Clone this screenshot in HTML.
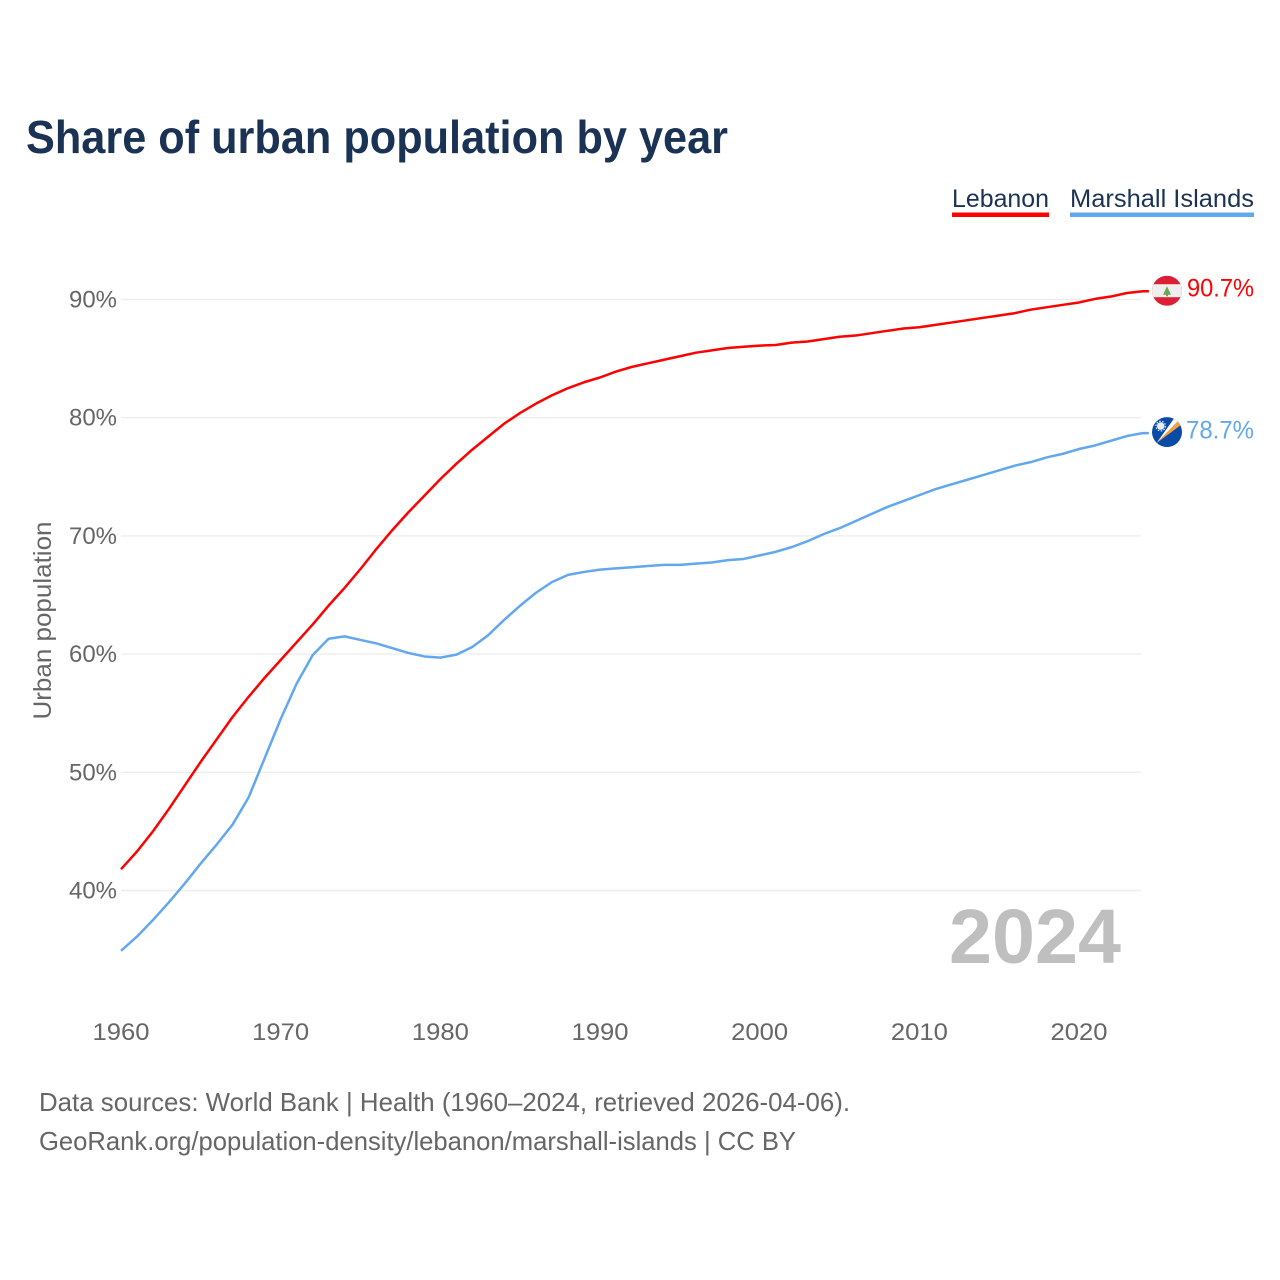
<!DOCTYPE html>
<html lang="en">
<head>
<meta charset="utf-8">
<title>Share of urban population by year</title>
<style>
  html, body { margin: 0; padding: 0; background: #fff; }
  svg { display: block; font-family: "Liberation Sans", "DejaVu Sans", sans-serif; }
</style>
</head>
<body>
<svg id="chart" xmlns="http://www.w3.org/2000/svg" width="1280" height="1280" viewBox="0 0 1280 1280">
  <defs>
    <clipPath id="flag-clip"><circle cx="0" cy="0" r="15"></circle></clipPath>
  </defs>
  <rect x="0" y="0" width="1280" height="1280" fill="#ffffff"></rect>
  <text x="26" y="153" font-size="46" font-weight="700" fill="#1a3254" textLength="702" lengthAdjust="spacingAndGlyphs">Share of urban population by year</text>

  <g>
    <g>
      <text x="952" y="207" font-size="25" fill="#1a3254" textLength="97" lengthAdjust="spacingAndGlyphs">Lebanon</text>
      <rect x="952" y="212.5" width="97" height="4.5" fill="#ff0000"></rect>
    </g>
    <g>
      <text x="1070" y="207" font-size="25" fill="#1a3254" textLength="184" lengthAdjust="spacingAndGlyphs">Marshall Islands</text>
      <rect x="1070" y="212.5" width="184" height="4.5" fill="#62a8ee"></rect>
    </g>
  </g>

  <g id="grid"></g>
  <g id="y-axis"></g>
  <g id="x-axis"></g>
  <text transform="translate(51,620.5) rotate(-90)" text-anchor="middle" font-size="25" fill="#666666" textLength="198" lengthAdjust="spacingAndGlyphs">Urban population</text>

  <text x="1121" y="963" text-anchor="end" font-size="77" font-weight="700" fill="#bfbfbf" textLength="172" lengthAdjust="spacingAndGlyphs">2024</text>

  <g id="series"></g>

  <g id="flag-lebanon">
    <g clip-path="url(#flag-clip)">
      <rect x="-15" y="-15" width="30" height="30" fill="#dc1f35"></rect>
      <rect x="-15" y="-6.5" width="30" height="13" fill="#eeeeee"></rect>
      <polygon points="0,-4.5 4,4 1,4 1,5.5 -1,5.5 -1,4 -4,4" fill="#6aa84f"></polygon>
    </g>
  </g>
  <g id="flag-marshall">
    <g clip-path="url(#flag-clip)">
      <rect x="-15" y="-15" width="30" height="30" fill="#0a4ba8"></rect>
      <polygon points="-10.5,11 8,-15 13,-13" fill="#ffffff"></polygon>
      <polygon points="-10.5,11 13,-13 15,-8" fill="#f6a13c"></polygon>
      <circle cx="-6.3" cy="-6" r="3.8" fill="#e8eef6"></circle>
      <circle cx="-6.3" cy="-6" r="4.8" fill="none" stroke="#e8eef6" stroke-width="1.2" stroke-dasharray="1.5 1.5"></circle>
    </g>
  </g>

  <g id="value-labels"></g>

  <g>
    <text x="39" y="1111" font-size="26" fill="#666666" textLength="811" lengthAdjust="spacingAndGlyphs">Data sources: World Bank | Health (1960–2024, retrieved 2026-04-06).</text>
    <text x="39" y="1150" font-size="26" fill="#666666" textLength="757" lengthAdjust="spacingAndGlyphs">GeoRank.org/population-density/lebanon/marshall-islands | CC BY</text>
  </g>
</svg>

<script>
const startYear = 1960;
const lebanonValues = [
  41.8, 43.3, 45.0, 46.9, 48.9, 50.9, 52.8, 54.7, 56.4, 58.0,
  59.5, 61.0, 62.5, 64.1, 65.6, 67.2, 68.9, 70.5, 72.0, 73.4,
  74.8, 76.1, 77.3, 78.4, 79.5, 80.4, 81.2, 81.9, 82.5, 83.0,
  83.4, 83.9, 84.3, 84.6, 84.9, 85.2, 85.5, 85.7, 85.9, 86.0,
  86.1, 86.15, 86.35, 86.45, 86.65, 86.85, 86.95, 87.15, 87.35, 87.55,
  87.65, 87.85, 88.05, 88.25, 88.45, 88.65, 88.85, 89.15, 89.35, 89.55,
  89.75, 90.05, 90.25, 90.55, 90.7
];
const marshallValues = [
  34.9, 36.1, 37.5, 39.0, 40.6, 42.3, 43.9, 45.6, 47.9, 51.2,
  54.5, 57.5, 59.9, 61.3, 61.5, 61.2, 60.9, 60.5, 60.1, 59.8,
  59.7, 59.95, 60.6, 61.6, 62.9, 64.1, 65.2, 66.1, 66.7, 66.95,
  67.15, 67.25, 67.35, 67.45, 67.55, 67.55, 67.65, 67.75, 67.95, 68.05,
  68.35, 68.65, 69.05, 69.55, 70.15, 70.65, 71.25, 71.85, 72.45, 72.95,
  73.45, 73.95, 74.35, 74.75, 75.15, 75.55, 75.95, 76.25, 76.65, 76.95,
  77.35, 77.65, 78.05, 78.45, 78.7
];
const yTickValues = [40, 50, 60, 70, 80, 90];
const xTickValues = [1960, 1970, 1980, 1990, 2000, 2010, 2020];

const NS = 'http://www.w3.org/2000/svg';
function xScale(year) { return 121 + (year - 1960) * 15.967; }
function yScale(value) { return 890.5 - (value - 40) * 11.82; }
function make(tag, parent, attrs) {
  const el = document.createElementNS(NS, tag);
  for (const k in attrs) el.setAttribute(k, attrs[k]);
  parent.appendChild(el);
  return el;
}

const gridGroup = document.getElementById('grid');
const yAxisGroup = document.getElementById('y-axis');
yTickValues.forEach(function (v) {
  const line = make('line', gridGroup, { x1: 121, x2: 1141, y1: yScale(v), y2: yScale(v), stroke: '#eeeeee', 'stroke-width': 1.4 });
  
  
  const label = make('text', yAxisGroup, { x: 117, y: yScale(v) + 8, 'text-anchor': 'end', 'font-size': 24.5, fill: '#666666', textLength: 48, lengthAdjust: 'spacingAndGlyphs' });
  
  
  label.textContent = v + '%';
});

const xAxisGroup = document.getElementById('x-axis');
xTickValues.forEach(function (year) {
  const label = make('text', xAxisGroup, { x: xScale(year), y: 1040, 'text-anchor': 'middle', 'font-size': 24.5, fill: '#666666', textLength: 57, lengthAdjust: 'spacingAndGlyphs' });
  
  
  label.textContent = year;
});

function linePath(values) {
  const pts = values.map(function (v, i) {
    return xScale(startYear + i).toFixed(2) + ',' + yScale(v).toFixed(2);
  });
  const last = values[values.length - 1];
  pts.push((xScale(startYear + values.length - 1) + 6).toFixed(2) + ',' + yScale(last).toFixed(2));
  return 'M' + pts.join('L');
}

const seriesGroup = document.getElementById('series');
const lebanonLine = make('path', seriesGroup, { d: linePath(lebanonValues), fill: 'none', stroke: '#ff0000', 'stroke-width': 2.5, 'stroke-linejoin': 'round' });


const marshallLine = make('path', seriesGroup, { d: linePath(marshallValues), fill: 'none', stroke: '#62a8ee', 'stroke-width': 2.5, 'stroke-linejoin': 'round' });



const lastLebanon = lebanonValues[lebanonValues.length - 1];
const lastMarshall = marshallValues[marshallValues.length - 1];
document.getElementById('flag-lebanon').setAttribute('transform', 'translate(1167,' + (yScale(lastLebanon) - 0.5) + ')');
document.getElementById('flag-marshall').setAttribute('transform', 'translate(1167,' + (yScale(lastMarshall) - 1) + ')');

const valueGroup = document.getElementById('value-labels');
const lebanonLabel = make('text', valueGroup, { x: 1254, y: yScale(lastLebanon) + 5.5, 'text-anchor': 'end', 'font-size': 25, fill: '#ff0000', textLength: 67, lengthAdjust: 'spacingAndGlyphs' });


lebanonLabel.textContent = lastLebanon.toFixed(1) + '%';
const marshallLabel = make('text', valueGroup, { x: 1254, y: yScale(lastMarshall) + 5.5, 'text-anchor': 'end', 'font-size': 25, fill: '#62a8ee', textLength: 68, lengthAdjust: 'spacingAndGlyphs' });


marshallLabel.textContent = lastMarshall.toFixed(1) + '%';
</script>
</body>
</html>
